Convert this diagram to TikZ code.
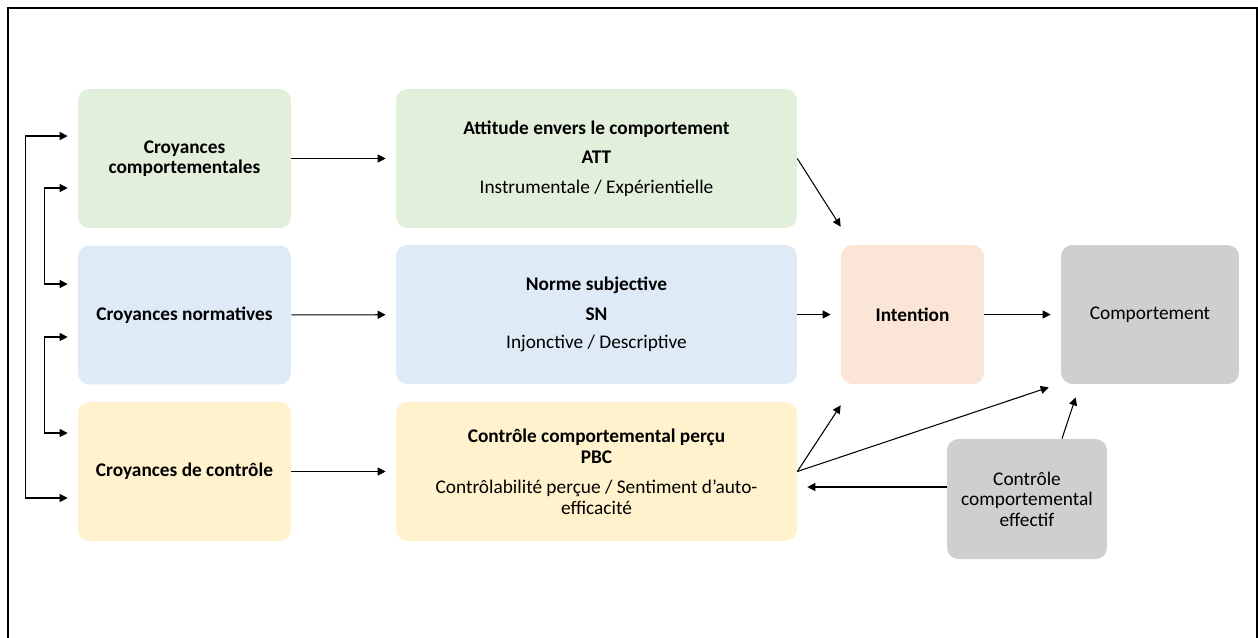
\documentclass[tikz,border=0pt]{standalone}
\usepackage{fontspec}
\setmainfont{Carlito}
\usetikzlibrary{positioning,arrows.meta,calc}

\definecolor{attgreen}{HTML}{E2EFDA}
\definecolor{snblue}{HTML}{DEEBF7}
\definecolor{pbcyellow}{HTML}{FFF2CC}
\definecolor{intorange}{HTML}{FBE5D6}
\definecolor{behgray}{HTML}{D0CECE}

\begin{document}
\begin{tikzpicture}[
    x=0.02cm, y=-0.02cm,
    font=\fontsize{11}{11.7}\selectfont,
    box/.style={rectangle, rounded corners=6.5pt, align=center, inner sep=2pt, fill=#1},
    belief/.style={box=#1, minimum width=4.26cm, minimum height=2.78cm},
    construct/.style={box=#1, minimum width=8.02cm, minimum height=2.78cm},
    arr/.style={-{Triangle[length=1.6mm, width=1.6mm]}, line width=0.6pt, draw=black, shorten >=0.2cm},
    biarr/.style={{Triangle[length=1.6mm, width=1.6mm]}-{Triangle[length=1.6mm, width=1.6mm]}, line width=0.6pt, draw=black, shorten >=0.2cm, shorten <=0.2cm}
]

% Page and frame
\useasboundingbox (0,0) rectangle (1258,637);
\begin{scope}
    \clip (0,0) rectangle (1258,637);
    \draw[line width=1.1pt] (8,8) rectangle (1257,680);
\end{scope}

% Beliefs (left column)
\node[belief=attgreen] (cc) at (184.5,158.5) {\textbf{Croyances}\\\textbf{comportementales}};
\node[belief=snblue] (cn) at (184.5,315) {\textbf{Croyances normatives}};
\node[belief=pbcyellow] (cctrl) at (184.5,471.5) {\textbf{Croyances de contrôle}};

% Constructs (middle column)
\node[construct=attgreen] (att) at (596.5,158.5) {\textbf{Attitude envers le comportement}\\[.18cm] \textbf{ATT}\\[.17cm] Instrumentale / Expérientielle};
\node[construct=snblue] (sn) at (596.5,314.5) {\textbf{Norme subjective}\\[.18cm] \textbf{SN}\\[.16cm] Injonctive / Descriptive};
\node[construct=pbcyellow] (pbc) at (596.5,471.5) {\textbf{Contrôle comportemental perçu}\\[.02cm] \textbf{PBC}\\[.18cm] Contrôlabilité perçue / Sentiment d’auto-\\efficacité};

% Intention, behaviour, actual control
\node[box=intorange, minimum width=2.86cm, minimum height=2.78cm] (intention) at (912.5,314.5) {\textbf{Intention}};
\node[box=behgray, minimum width=3.56cm, minimum height=2.78cm] (comport) at (1150,314.5) {Comportement};
\node[box=behgray, minimum width=3.2cm, minimum height=2.4cm] (effectif) at (1027,499) {Contrôle\\comportemental\\effectif};

% Free ends of the diagonal arrows
\coordinate[above=0.36cm of intention.north west] (attin);
\coordinate[below=0.42cm of intention.south west] (pbcin);
\coordinate (pbccomp) at ([xshift=-.24cm, yshift=-.06cm]comport.south west);
\coordinate (effcomp) at ([xshift=.3cm, yshift=-.26cm]comport.south west);
\coordinate (effout) at ([xshift=.7cm]effectif.north);
\coordinate (effpbc) at ([yshift=.24cm]effectif.west);

% Beliefs -> constructs
\draw[arr] (cc) -- (att);
\draw[arr] (cn) -- (sn);
\draw[arr] (cctrl) -- (pbc);

% Constructs -> intention -> behaviour
\draw[arr, shorten >=0pt] (att.east) -- (attin);
\draw[arr] (sn) -- (intention);
\draw[arr, shorten >=0pt] (pbc.east) -- (pbcin);
\draw[arr, shorten >=0pt] (pbc.east) -- (pbccomp);
\draw[arr] (intention) -- (comport);

% Actual control
\draw[arr, shorten >=0pt] (effout) -- (effcomp);
\draw[arr] (effpbc) -- (effpbc -| pbc.east);

% Links between beliefs
\draw[biarr] ([yshift=.45cm]cc.west) -- ++(-52,0) |- ([yshift=-.53cm]cctrl.west);
\draw[biarr] ([yshift=-.59cm]cc.west) -- ++(-33,0) |- ([yshift=.62cm]cn.west);
\draw[biarr] ([yshift=-.44cm]cn.west) -- ++(-33,0) |- ([yshift=.77cm]cctrl.west);

\end{tikzpicture}
\end{document}
